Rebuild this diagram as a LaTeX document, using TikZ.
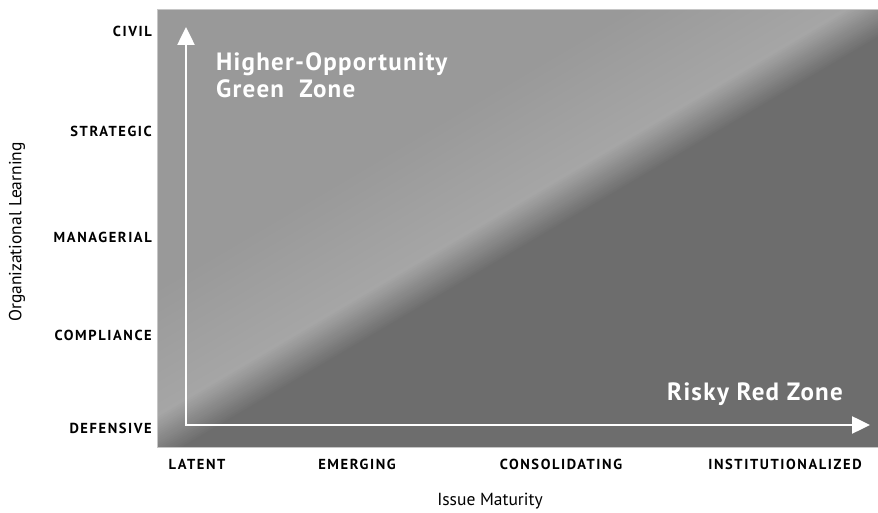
\documentclass[tikz,border=0pt]{standalone}
\usepackage{fontspec}
\setmainfont{PT Sans}
\newfontfamily\tickfont[LetterSpace=11]{PT Sans}
\newfontfamily\zonefont[LetterSpace=5]{PT Sans}
\usetikzlibrary{arrows.meta}

\definecolor{midzone}{HTML}{999999}
\definecolor{peakzone}{HTML}{A6A6A6}
\definecolor{darkzone}{HTML}{6D6D6D}

\tikzset{
  levellabel/.style={anchor=base east, inner sep=0pt, font=\tickfont\bfseries\fontsize{14.5}{17}\selectfont},
  stagelabel/.style={anchor=base, inner sep=0pt, font=\tickfont\bfseries\fontsize{14.5}{17}\selectfont},
  axistitle/.style={inner sep=0pt, font=\fontsize{17.5}{20}\selectfont},
  zonelabel/.style={inner sep=0pt, text=white, align=left, font=\zonefont\bfseries\fontsize{25}{27}\selectfont},
  axisarrow/.style={draw=white, line width=2.5pt, line join=miter,
    {Triangle[length=18pt,width=17pt]}-{Triangle[length=18pt,width=17pt]}}
}

\begin{document}
\begin{tikzpicture}[x=1pt,y=1pt]
  \useasboundingbox (0,0) rectangle (878,513);

  % Shaded panel with the diagonal band
  \begin{scope}
    \clip (157,65) rectangle (878,503);
    \begin{scope}[shift={(185,68)}, rotate=30.5]
      \fill[midzone] (-700,-900) rectangle (1500,900);
      % light band, fading out to the upper left
      \foreach \t in {150,148,...,40} {
        \pgfmathsetmacro\pct{100*(150-\t)/110}
        \fill[peakzone!\pct!midzone] (-700,-900) rectangle (1500,\t);
      }
      % sharper edge down to the dark zone
      \foreach \t in {40,38,...,0} {
        \pgfmathsetmacro\pct{100*(40-\t)/40}
        \fill[darkzone!\pct!peakzone] (-700,-900) rectangle (1500,\t);
      }
    \end{scope}
  \end{scope}
  \draw[gray!45, line width=1pt] (157,65) rectangle (878,503);

  % Axes
  \coordinate (ytop) at (186,486);
  \coordinate (origin) at (186,88);
  \coordinate (xend) at (870,88);
  \draw[axisarrow] (ytop) -- (origin) -- (xend);

  % Zone labels
  \node[zonelabel, anchor=north west] (green) at (216,461) {Higher-Opportunity\\Green\ \ Zone};
  \node[zonelabel, anchor=base east] (red) at (843,112) {Risky Red Zone};

  % Levels of learning
  \node[levellabel] (civil) at (152,476) {CIVIL};
  \node[levellabel] (strategic) at (152,376) {STRATEGIC};
  \node[levellabel] (managerial) at (152,270) {MANAGERIAL};
  \node[levellabel] (compliance) at (152,172) {COMPLIANCE};
  \node[levellabel] (defensive) at (152,79) {DEFENSIVE};

  % Stages of maturity
  \node[stagelabel] (latent) at (197,43) {LATENT};
  \node[stagelabel] (emerging) at (357,43) {EMERGING};
  \node[stagelabel] (consolidating) at (561,43) {CONSOLIDATING};
  \node[stagelabel] (institutional) at (785,43) {INSTITUTIONALIZED};

  % Axis titles
  \node[axistitle, anchor=base] (xtitle) at (490,7) {Issue Maturity};
  \node[axistitle, rotate=90] (ytitle) at (17,281) {Organizational Learning};
\end{tikzpicture}
\end{document}
